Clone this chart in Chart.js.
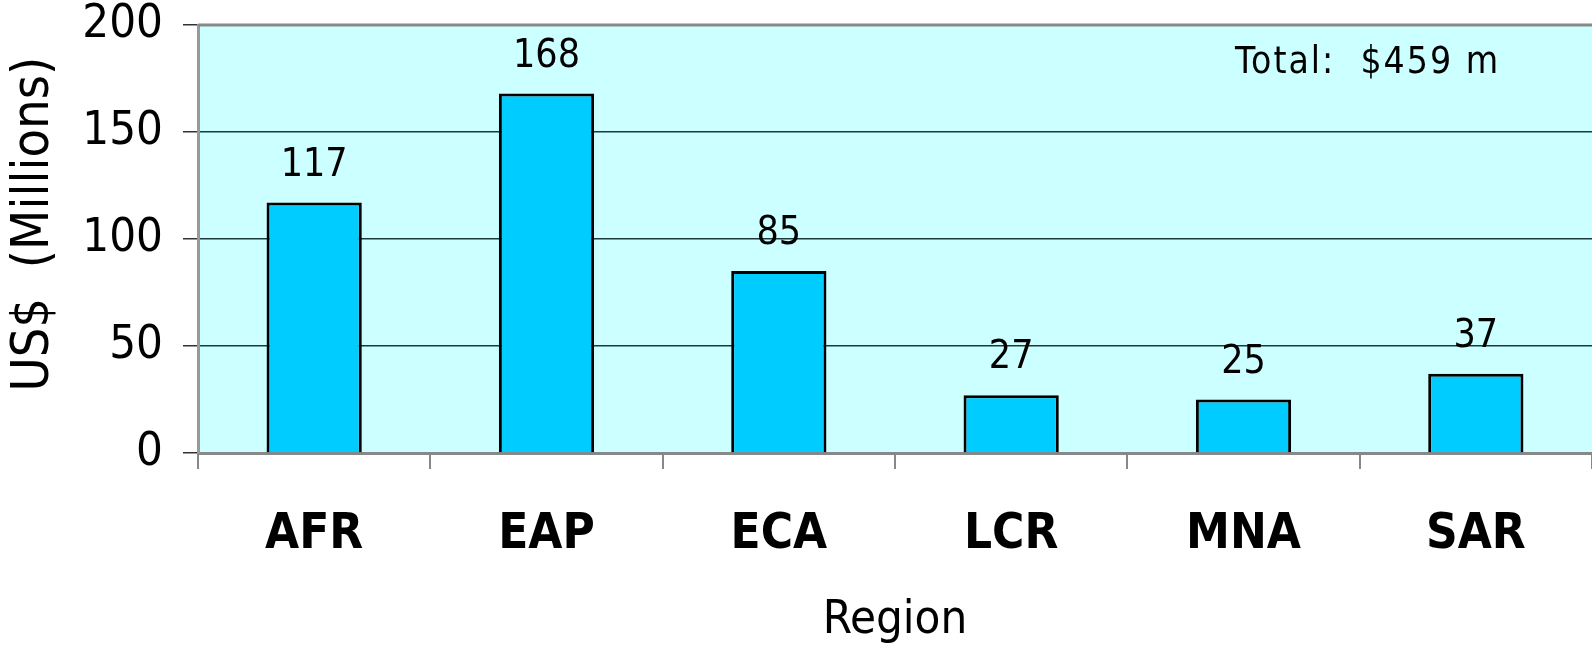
<!DOCTYPE html>
<html>
<head>
<meta charset="utf-8">
<script src="https://cdn.jsdelivr.net/npm/chart.js@4/dist/chart.umd.min.js"></script>
<style>
  html, body { margin: 0; padding: 0; background: #fff; overflow: hidden; }
  #wrap { width: 1592px; height: 645px; }
</style>
</head>
<body>
<div id="wrap"><canvas id="chart" width="1592" height="645"></canvas></div>
<script>
// Chart data
const regions = ["AFR", "EAP", "ECA", "LCR", "MNA", "SAR"];
const amounts = [117, 168, 85, 27, 25, 37];
const yTicks = [0, 50, 100, 150, 200];
const totalLabel = "Total:  $459 m";

const FONT = "'DejaVu Sans Condensed', 'Noto Sans', sans-serif";

// Plot background + top border
const plotBackground = {
  id: "plotBackground",
  beforeDraw(chart) {
    const { ctx, chartArea: a } = chart;
    ctx.save();
    ctx.fillStyle = "#CCFFFF";
    ctx.fillRect(a.left, a.top, a.right - a.left, a.bottom - a.top);
    ctx.restore();
  },
  afterDraw(chart) {
    const { ctx, chartArea: a } = chart;
    ctx.save();
    ctx.strokeStyle = "#888888";
    ctx.lineWidth = 3;
    ctx.beginPath();
    ctx.moveTo(a.left, a.top);
    ctx.lineTo(a.right, a.top);
    ctx.stroke();
    ctx.restore();
  }
};

// Value labels above bars and the total note
const valueLabels = {
  id: "valueLabels",
  afterDatasetsDraw(chart) {
    const { ctx, chartArea: a } = chart;
    const meta = chart.getDatasetMeta(0);
    ctx.save();
    ctx.fillStyle = "#000";
    ctx.font = "39px " + FONT;
    ctx.textAlign = "center";
    ctx.textBaseline = "middle";
    meta.data.forEach((bar, i) => {
      ctx.fillText(String(amounts[i]), bar.x, bar.y - 37);
    });
    ctx.font = "37px " + FONT;
    ctx.letterSpacing = "2px";
    ctx.textAlign = "left";
    ctx.fillText(totalLabel, a.right - 357, chart.scales.y.getPixelForValue(182));
    ctx.restore();
  }
};

new Chart(document.getElementById("chart"), {
  type: "bar",
  data: {
    labels: regions,
    datasets: [{
      data: amounts,
      backgroundColor: "#00CCFF",
      borderColor: "#000000",
      borderWidth: 3,
      categoryPercentage: 1,
      barPercentage: 0.41
    }]
  },
  options: {
    responsive: false,
    animation: false,
    layout: { padding: { top: 25, right: 0, left: 0, bottom: 0 } },
    plugins: {
      legend: { display: false },
      tooltip: { enabled: false }
    },
    scales: {
      x: {
        afterFit(scale) {
          scale.height = 192;
          scale.paddingLeft = 0;
          scale.paddingRight = 0;
        },
        grid: {
          display: true,
          drawOnChartArea: false,
          tickLength: 16,
          color: "#888888",
          lineWidth: 2
        },
        border: { color: "#888888", width: 3 },
        ticks: {
          color: "#000",
          font: { family: FONT, size: 49, weight: "bold" },
          padding: 37
        },
        title: {
          display: true,
          text: "Region",
          color: "#000",
          font: { family: FONT, size: 47 },
          padding: { top: 0, bottom: -4 }
        }
      },
      y: {
        min: 0,
        max: 200,
        afterFit(scale) {
          scale.width = 198;
          scale.paddingTop = 0;
          scale.paddingBottom = 0;
        },
        afterBuildTicks(scale) { scale.ticks = yTicks.map(v => ({ value: v })); },
        grid: {
          color: "#1a3a3a",
          lineWidth: 1.5,
          tickLength: 15,
          tickColor: "#333333"
        },
        border: { color: "#999999", width: 3 },
        ticks: {
          color: "#000",
          font: { family: FONT, size: 47 },
          padding: 20
        },
        title: {
          display: true,
          text: "  US$  (Millions)",
          color: "#000",
          font: { family: FONT, size: 52 },
          padding: { top: 3, bottom: 0 }
        }
      }
    }
  },
  plugins: [plotBackground, valueLabels]
});
</script>
</body>
</html>
